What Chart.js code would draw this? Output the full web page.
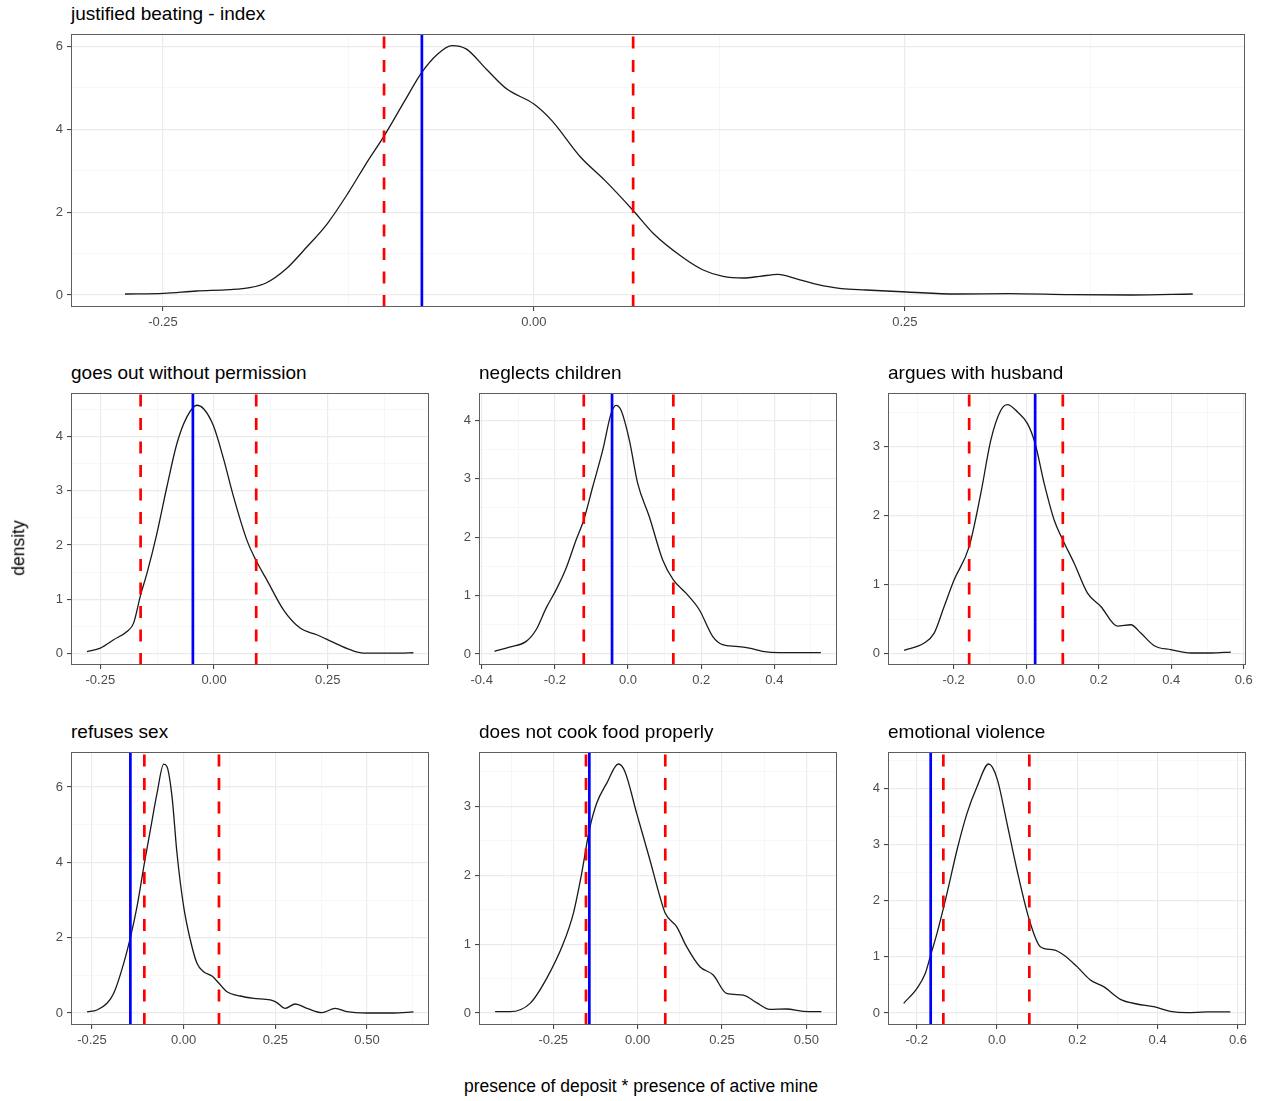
<!DOCTYPE html>
<html>
<head>
<meta charset="utf-8">
<script src="https://cdn.jsdelivr.net/npm/chart.js@4.4.1/dist/chart.umd.min.js"></script>
<style>
  html, body { margin: 0; padding: 0; background: #ffffff; }
  #root { position: relative; width: 1262px; height: 1101px; overflow: hidden; background: #ffffff; }
  canvas { position: absolute; }
  .ptitle { position: absolute; font-family: 'Liberation Sans', Arial, sans-serif; font-size: 19px; line-height: 19px; color: #000; white-space: nowrap; }
  .atitle { position: absolute; font-family: 'Liberation Sans', Arial, sans-serif; font-size: 17.5px; line-height: 17.5px; color: #000; white-space: nowrap; }
</style>
</head>
<body>
<div id="root"></div>
<script>
// ---------------- DATA ----------------
const panelTitles = [
  'justified beating - index',
  'goes out without permission',
  'neglects children',
  'argues with husband',
  'refuses sex',
  'does not cook food properly',
  'emotional violence'
];

const beatingX = [-0.2756, -0.2495, -0.2274, -0.2054, -0.1916, -0.1806, -0.1669, -0.1531, -0.1393, -0.1256, -0.1118, -0.1008, -0.087, -0.076, -0.065, -0.0553, -0.0457, -0.032, -0.0182, 0.0, 0.0121, 0.0314, 0.048, 0.0669, 0.0807, 0.1, 0.1137, 0.1275, 0.1412, 0.1523, 0.1646, 0.177, 0.1908, 0.2073, 0.2238, 0.2514, 0.2844, 0.3202, 0.3615, 0.4028, 0.4441];
const beatingY = [0.024, 0.04, 0.096, 0.128, 0.177, 0.289, 0.634, 1.157, 1.719, 2.44, 3.245, 3.847, 4.69, 5.35, 5.81, 6.02, 5.94, 5.45, 4.97, 4.61, 4.21, 3.33, 2.76, 2.04, 1.478, 0.916, 0.61, 0.45, 0.41, 0.45, 0.498, 0.39, 0.257, 0.153, 0.12, 0.072, 0.024, 0.032, 0.008, 0.0, 0.024];

const goesOutX = [-0.2793, -0.25, -0.2207, -0.1914, -0.1768, -0.1614, -0.1475, -0.1255, -0.1036, -0.0816, -0.0596, -0.0377, -0.023, -0.0015, 0.0205, 0.0425, 0.0718, 0.0927, 0.116, 0.1526, 0.1892, 0.2258, 0.2624, 0.2991, 0.3284, 0.3723, 0.409, 0.4382];
const goesOutY = [0.037, 0.104, 0.257, 0.41, 0.563, 1.084, 1.48, 2.217, 3.074, 3.87, 4.36, 4.574, 4.51, 4.2, 3.6, 2.9, 2.1, 1.71, 1.36, 0.808, 0.472, 0.349, 0.208, 0.073, 0.012, 0.012, 0.012, 0.018];

const neglectsX = [-0.365, -0.324, -0.2785, -0.2512, -0.2239, -0.1966, -0.1693, -0.142, -0.121, -0.0965, -0.0692, -0.0464, -0.0328, -0.0191, 0.0036, 0.0264, 0.0582, 0.0947, 0.1238, 0.1584, 0.1948, 0.2312, 0.2585, 0.2949, 0.3313, 0.3677, 0.4133, 0.4588, 0.527];
const neglectsY = [0.046, 0.119, 0.216, 0.415, 0.785, 1.098, 1.468, 1.952, 2.293, 2.862, 3.488, 4.114, 4.256, 4.17, 3.659, 2.919, 2.35, 1.61, 1.269, 1.041, 0.757, 0.302, 0.159, 0.131, 0.102, 0.046, 0.023, 0.023, 0.023];

const arguesX = [-0.3366, -0.2814, -0.2538, -0.2262, -0.1986, -0.1572, -0.1251, -0.0975, -0.0699, -0.0515, -0.0239, 0.0037, 0.0248, 0.0497, 0.0772, 0.1011, 0.1324, 0.1692, 0.206, 0.252, 0.2887, 0.3163, 0.3531, 0.399, 0.4542, 0.5094, 0.5646];
const arguesY = [0.048, 0.154, 0.299, 0.685, 1.071, 1.553, 2.325, 3.097, 3.531, 3.613, 3.507, 3.338, 3.049, 2.47, 1.939, 1.65, 1.312, 0.878, 0.685, 0.4, 0.42, 0.299, 0.116, 0.058, 0.01, 0.01, 0.024];

const refusesX = [-0.2634, -0.2362, -0.2089, -0.1907, -0.1635, -0.1453, -0.1272, -0.1072, -0.0908, -0.0727, -0.0545, -0.0454, -0.0318, -0.0182, 0.0, 0.0182, 0.0363, 0.0545, 0.0772, 0.0963, 0.1181, 0.1544, 0.1907, 0.2361, 0.2543, 0.277, 0.3043, 0.3361, 0.377, 0.4133, 0.4451, 0.4995, 0.5722, 0.6267];
const refusesY = [0.027, 0.08, 0.257, 0.522, 1.319, 2.0, 2.823, 3.97, 4.86, 5.83, 6.61, 6.54, 5.75, 4.24, 2.823, 1.938, 1.319, 1.097, 0.982, 0.788, 0.566, 0.451, 0.389, 0.345, 0.274, 0.124, 0.239, 0.124, 0.009, 0.124, 0.035, 0.0, 0.0, 0.027];

const cookX = [-0.4224, -0.378, -0.3188, -0.2695, -0.2201, -0.1905, -0.1658, -0.1431, -0.1214, -0.0918, -0.0572, -0.0375, -0.003, 0.0365, 0.0661, 0.0819, 0.1155, 0.1451, 0.1845, 0.224, 0.2635, 0.3128, 0.3523, 0.3918, 0.4411, 0.4905, 0.5447];
const cookY = [0.019, 0.019, 0.14, 0.503, 1.011, 1.447, 2.027, 2.656, 3.043, 3.333, 3.614, 3.503, 2.9, 2.22, 1.688, 1.447, 1.253, 0.963, 0.672, 0.552, 0.285, 0.261, 0.15, 0.053, 0.058, 0.024, 0.019];

const emotionalX = [-0.2324, -0.1992, -0.1784, -0.1651, -0.1494, -0.1245, -0.0996, -0.0747, -0.0498, -0.0207, 0.0, 0.0249, 0.0498, 0.0805, 0.1079, 0.1411, 0.166, 0.1992, 0.2324, 0.2656, 0.3071, 0.3485, 0.39, 0.4315, 0.473, 0.5228, 0.5809];
const emotionalY = [0.172, 0.439, 0.706, 1.033, 1.418, 2.13, 2.902, 3.555, 4.03, 4.433, 4.178, 3.377, 2.546, 1.656, 1.181, 1.122, 1.033, 0.825, 0.588, 0.469, 0.243, 0.16, 0.113, 0.03, 0.006, 0.018, 0.018];

// vertical reference lines (blue = estimate, red dashed = interval bounds)
const blueLineX  = [-0.0755, -0.0465, -0.0437, 0.0248, -0.1453, -0.1431, -0.1651];
const redLowerX  = [-0.101, -0.1614, -0.121, -0.1572, -0.1072, -0.153, -0.1336];
const redUpperX  = [0.0669, 0.0927, 0.1238, 0.1011, 0.0963, 0.0819, 0.0805];

// axis ranges
const xMinValues = [-0.312, -0.3144, -0.4073, -0.3811, -0.3072, -0.4701, -0.2714];
const xMaxValues = [0.4793, 0.4725, 0.5711, 0.6064, 0.669, 0.5908, 0.62];
const yMinValues = [-0.29, -0.208, -0.188, -0.164, -0.319, -0.174, -0.214];
const yMaxValues = [6.3, 4.8, 4.467, 3.782, 6.93, 3.788, 4.647];

// tick values and labels
const xTicksQuarter = [-0.5, -0.25, 0, 0.25, 0.5, 0.75];
const xLabelsQuarter = ['-0.50', '-0.25', '0.00', '0.25', '0.50', '0.75'];
const xTicksFifth = [-0.6, -0.4, -0.2, 0, 0.2, 0.4, 0.6, 0.8];
const xLabelsFifth = ['-0.6', '-0.4', '-0.2', '0.0', '0.2', '0.4', '0.6', '0.8'];
const yTicksByOne = [0, 1, 2, 3, 4, 5];
const yLabelsByOne = ['0', '1', '2', '3', '4', '5'];
const yTicksByTwo = [0, 2, 4, 6, 8];
const yLabelsByTwo = ['0', '2', '4', '6', '8'];

const axisTitleX = 'presence of deposit * presence of active mine';
const axisTitleY = 'density';

// ---------------- LAYOUT (positions / sizes only) ----------------
const layoutBoxes = [
  { left: 71,  top: 34,  w: 1174, h: 273 },
  { left: 71,  top: 393, w: 358,  h: 272 },
  { left: 479, top: 393, w: 358,  h: 272 },
  { left: 888, top: 393, w: 358,  h: 272 },
  { left: 71,  top: 752, w: 358,  h: 273 },
  { left: 479, top: 752, w: 358,  h: 273 },
  { left: 888, top: 752, w: 358,  h: 273 }
];
const panelSeries = [
  [beatingX, beatingY], [goesOutX, goesOutY], [neglectsX, neglectsY], [arguesX, arguesY],
  [refusesX, refusesY], [cookX, cookY], [emotionalX, emotionalY]
];
const xTickSets = [
  [xTicksQuarter, xLabelsQuarter], [xTicksQuarter, xLabelsQuarter], [xTicksFifth, xLabelsFifth], [xTicksFifth, xLabelsFifth],
  [xTicksQuarter, xLabelsQuarter], [xTicksQuarter, xLabelsQuarter], [xTicksFifth, xLabelsFifth]
];
const yTickSets = [
  [yTicksByTwo, yLabelsByTwo], [yTicksByOne, yLabelsByOne], [yTicksByOne, yLabelsByOne], [yTicksByOne, yLabelsByOne],
  [yTicksByTwo, yLabelsByTwo], [yTicksByOne, yLabelsByOne], [yTicksByOne, yLabelsByOne]
];

const Y_AXIS_W = 50, X_AXIS_H = 30, PAD_TOP = 2, PAD_RIGHT = 16;
const FONT = "'Liberation Sans', Arial, sans-serif";

function near(a, b) { return Math.abs(a - b) < 1e-9; }

function buildGrid(majors, min, max) {
  const inMaj = majors.filter(v => v >= min - 1e-9 && v <= max + 1e-9);
  const step = majors[1] - majors[0];
  const minors = [];
  for (let i = 0; i < majors.length; i++) {
    const m = majors[i] - step / 2;
    if (m >= min && m <= max) minors.push(m);
    const m2 = majors[i] + step / 2;
    if (i === majors.length - 1 && m2 >= min && m2 <= max) minors.push(m2);
  }
  return { majors: inMaj, all: inMaj.concat(minors).sort((a, b) => a - b) };
}

function isMajor(list, v) { return list.some(m => near(m, v)); }

const framePlugin = {
  id: 'frame',
  afterDatasetsDraw(chart) {
    const { left, top, right, bottom } = chart.chartArea;
    const ctx = chart.ctx;
    ctx.save();
    ctx.strokeStyle = '#5e5e5e';
    ctx.lineWidth = 1;
    ctx.strokeRect(Math.round(left) + 0.5, Math.round(top) + 0.5, Math.round(right - left) - 1, Math.round(bottom - top) - 1);
    ctx.restore();
  }
};

function axisOpts(min, max, majors, labels, isX) {
  const g = buildGrid(majors, min, max);
  return {
    type: 'linear',
    min: min, max: max,
    bounds: 'data',
    afterBuildTicks: (ax) => { ax.ticks = g.all.map(v => ({ value: v })); },
    afterFit: (ax) => {
      if (isX) { ax.height = X_AXIS_H; } else { ax.width = Y_AXIS_W; }
      ax.paddingLeft = 0; ax.paddingRight = 0; ax.paddingTop = 0; ax.paddingBottom = 0;
    },
    ticks: {
      autoSkip: false,
      maxRotation: 0, minRotation: 0,
      padding: 4,
      color: '#4D4D4D',
      font: { family: FONT, size: 13 },
      callback: (value) => {
        for (let i = 0; i < majors.length; i++) if (near(majors[i], value)) return labels[i];
        return '';
      }
    },
    grid: {
      drawOnChartArea: true,
      drawTicks: true,
      tickLength: 4,
      color: (ctx) => (ctx.tick && isMajor(g.majors, ctx.tick.value)) ? '#EBEBEB' : '#F4F4F4',
      lineWidth: (ctx) => (ctx.tick && isMajor(g.majors, ctx.tick.value)) ? 1.2 : 0.7,
      tickColor: (ctx) => (ctx.tick && isMajor(g.majors, ctx.tick.value)) ? '#333333' : 'rgba(0,0,0,0)',
      tickWidth: 1
    },
    border: { display: false }
  };
}

const root = document.getElementById('root');

layoutBoxes.forEach((box, i) => {
  const canvas = document.createElement('canvas');
  const cw = Y_AXIS_W + box.w + PAD_RIGHT;
  const ch = PAD_TOP + box.h + X_AXIS_H;
  canvas.width = cw; canvas.height = ch;
  canvas.style.width = cw + 'px'; canvas.style.height = ch + 'px';
  canvas.style.left = (box.left - Y_AXIS_W) + 'px';
  canvas.style.top = (box.top - PAD_TOP) + 'px';
  root.appendChild(canvas);

  const title = document.createElement('div');
  title.className = 'ptitle';
  title.textContent = panelTitles[i];
  title.style.left = box.left + 'px';
  title.style.top = (box.top - 30) + 'px';
  root.appendChild(title);

  const [xs, ys] = panelSeries[i];
  const ymin = yMinValues[i], ymax = yMaxValues[i];
  const vline = (x) => [{ x: x, y: ymin }, { x: x, y: ymax }];

  new Chart(canvas, {
    type: 'line',
    data: {
      datasets: [
        { label: 'estimate', data: vline(blueLineX[i]), borderColor: '#0000FF', borderWidth: 2.7, pointRadius: 0, fill: false },
        { label: 'lower', data: vline(redLowerX[i]), borderColor: '#FF0000', borderWidth: 2.7, borderDash: [12, 11.5], pointRadius: 0, fill: false },
        { label: 'upper', data: vline(redUpperX[i]), borderColor: '#FF0000', borderWidth: 2.7, borderDash: [12, 11.5], pointRadius: 0, fill: false },
        { label: 'density', data: xs.map((x, k) => ({ x: x, y: ys[k] })), borderColor: '#1a1a1a', borderWidth: 1.3, pointRadius: 0, fill: false, cubicInterpolationMode: 'monotone' }
      ]
    },
    options: {
      responsive: false,
      animation: false,
      events: [],
      layout: { padding: { top: PAD_TOP, right: PAD_RIGHT, left: 0, bottom: 0 } },
      plugins: { legend: { display: false }, tooltip: { enabled: false }, title: { display: false } },
      scales: {
        x: axisOpts(xMinValues[i], xMaxValues[i], xTickSets[i][0], xTickSets[i][1], true),
        y: axisOpts(ymin, ymax, yTickSets[i][0], yTickSets[i][1], false)
      }
    },
    plugins: [framePlugin]
  });
});

const xt = document.createElement('div');
xt.className = 'atitle';
xt.textContent = axisTitleX;
xt.style.left = '641px';
xt.style.top = '1078px';
xt.style.transform = 'translateX(-50%)';
root.appendChild(xt);

const yt = document.createElement('div');
yt.className = 'atitle';
yt.textContent = axisTitleY;
yt.style.left = '18.5px';
yt.style.top = '548px';
yt.style.transform = 'translate(-50%, -50%) rotate(-90deg)';
root.appendChild(yt);
</script>
</body>
</html>
